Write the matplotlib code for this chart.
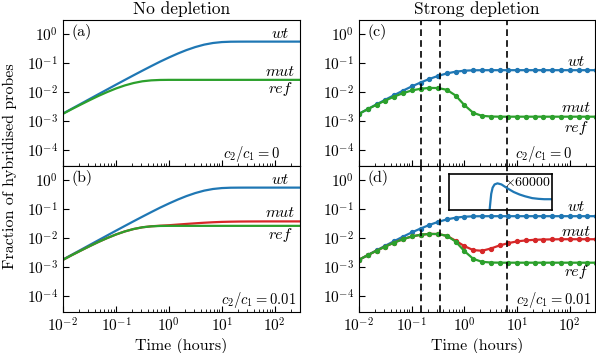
import matplotlib
matplotlib.use("Agg")
import matplotlib.pyplot as plt

plt.rcParams['font.family'] = 'serif'
plt.rcParams['font.serif'] = ['cmr10']
plt.rcParams['mathtext.fontset'] = 'cm'
plt.rcParams['axes.formatter.use_mathtext'] = True
plt.rcParams['font.size'] = 11

BLUE = '#1f77b4'
GREEN = '#2ca02c'
RED = '#d62728'

# time points (hours)
t = [0.01, 0.0147, 0.0215, 0.0316, 0.0464, 0.0681, 0.1, 0.147, 0.215, 0.316,
     0.464, 0.681, 1, 1.47, 2.15, 3.16, 4.64, 6.81, 10, 14.7, 21.5, 31.6,
     46.4, 68.1, 100, 147, 215, 316]

# no depletion
wt_nd = [0.0018, 0.00264, 0.00385, 0.00565, 0.00828, 0.0121, 0.0177, 0.0258,
         0.0373, 0.0539, 0.0773, 0.110, 0.153, 0.209, 0.276, 0.351, 0.425,
         0.484, 0.521, 0.536, 0.539, 0.54, 0.54, 0.54, 0.54, 0.54, 0.54, 0.54]
ref_nd = [0.00176, 0.00255, 0.00363, 0.00515, 0.00722, 0.00985, 0.0131,
          0.0167, 0.0202, 0.0232, 0.0250, 0.0258, 0.0260, 0.026, 0.026, 0.026,
          0.026, 0.026, 0.026, 0.026, 0.026, 0.026, 0.026, 0.026, 0.026,
          0.026, 0.026, 0.026]
mut_nd_b = [0.00176, 0.00255, 0.00363, 0.00515, 0.00722, 0.00985, 0.0131,
            0.0167, 0.0202, 0.0232, 0.0251, 0.0263, 0.0273, 0.0288, 0.0303,
            0.0318, 0.0333, 0.0346, 0.0356, 0.0362, 0.0366, 0.0368, 0.0369,
            0.037, 0.037, 0.037, 0.037, 0.037]

# strong depletion
wt_sd = [0.00176, 0.00257, 0.00372, 0.00539, 0.00773, 0.0110, 0.0154, 0.0210,
         0.0278, 0.0356, 0.0433, 0.0497, 0.0537, 0.0555, 0.0559, 0.056, 0.056,
         0.056, 0.056, 0.056, 0.056, 0.056, 0.056, 0.056, 0.056, 0.056,
         0.056, 0.056]
ref_sd = [0.00176, 0.00255, 0.00362, 0.00505, 0.0069, 0.0090, 0.0112, 0.0128,
          0.0137, 0.0136, 0.0118, 0.0075, 0.0035, 0.0019, 0.00150, 0.00142,
          0.0014, 0.0014, 0.0014, 0.0014, 0.0014, 0.0014, 0.0014, 0.0014,
          0.0014, 0.0014, 0.0014, 0.0014]
mut_sd_d = [0.00176, 0.00255, 0.00362, 0.00505, 0.0069, 0.0090, 0.0112,
            0.0128, 0.0137, 0.0136, 0.0118, 0.0080, 0.0052, 0.0038, 0.0036,
            0.0043, 0.0055, 0.0066, 0.0076, 0.0082, 0.0086, 0.0088, 0.0089,
            0.009, 0.009, 0.009, 0.009, 0.009]

vlines = [0.152, 0.344, 6.5]

# inset (x60000)
inset_t = [2.9, 3.05, 3.2, 3.4, 3.7, 4.2, 5.0, 6.5, 8.5, 11, 14, 19, 25, 32,
           40, 50]
inset_y = [-0.2, 0.15, 0.45, 0.62, 0.71, 0.74, 0.71, 0.6, 0.5, 0.43, 0.38,
           0.33, 0.31, 0.3, 0.3, 0.3]

fig = plt.figure(figsize=(5.96, 3.53), dpi=100)
W, H = 596.0, 353.0
aw, ah = 237 / W, 146 / H
ax_a = fig.add_axes([63 / W, 1 - 166 / H, aw, ah])
ax_b = fig.add_axes([63 / W, 1 - 312 / H, aw, ah])
ax_c = fig.add_axes([359 / W, 1 - 166 / H, aw - 1 / W, ah])
ax_d = fig.add_axes([359 / W, 1 - 312 / H, aw - 1 / W, ah])

for ax in (ax_a, ax_b, ax_c, ax_d):
    ax.set_xscale('log')
    ax.set_yscale('log')
    ax.set_xlim(0.01, 300)
    ax.set_ylim(2.8e-5, 3)
    ax.tick_params(which='both', direction='in', top=False, right=False,
                   labelsize=11)
    ax.tick_params(which='major', length=4)
    ax.tick_params(which='minor', length=2)
    ax.set_yticks([1, 0.1, 0.01, 1e-3, 1e-4])

for ax in (ax_a, ax_c):
    ax.tick_params(labelbottom=False)

lw = 1.6
ax_a.plot(t, wt_nd, color=BLUE, lw=lw)
ax_a.plot(t, ref_nd, color=GREEN, lw=lw)

ax_b.plot(t, wt_nd, color=BLUE, lw=lw)
ax_b.plot(t, mut_nd_b, color=RED, lw=lw)
ax_b.plot(t, ref_nd, color=GREEN, lw=lw)

ax_c.plot(t, wt_sd, color=BLUE, lw=lw, marker='o', ms=2.8)
ax_c.plot(t, ref_sd, color=GREEN, lw=lw, marker='o', ms=2.8)

ax_d.plot(t, wt_sd, color=BLUE, lw=lw, marker='o', ms=2.8)
ax_d.plot(t, mut_sd_d, color=RED, lw=lw, marker='o', ms=2.8)
ax_d.plot(t, ref_sd, color=GREEN, lw=lw, marker='o', ms=2.8)

for ax in (ax_c, ax_d):
    for xv in vlines:
        ax.axvline(xv, color='k', lw=1.2, ls=(0, (4, 2.5)))

# curve labels (italic Computer Modern)
lab = dict(ha='center', va='center', fontsize=11.5, family='cmmi10')
ax_a.text(125, 1.0, 'wt', **lab)
ax_a.text(125, 0.049, 'mut', **lab)
ax_a.text(125, 0.0126, 'ref', **lab)
ax_b.text(125, 1.0, 'wt', **lab)
ax_b.text(125, 0.073, 'mut', **lab)
ax_b.text(125, 0.0126, 'ref', **lab)
ax_c.text(130, 0.11, 'wt', **lab)
ax_c.text(130, 0.0027, 'mut', **lab)
ax_c.text(130, 0.00059, 'ref', **lab)
ax_d.text(130, 0.117, 'wt', **lab)
ax_d.text(130, 0.016, 'mut', **lab)
ax_d.text(130, 0.00067, 'ref', **lab)

for ax, letter in zip((ax_a, ax_b, ax_c, ax_d), 'abcd'):
    ax.text(0.035, 0.92, '(%s)' % letter, transform=ax.transAxes,
            ha='left', va='center', fontsize=11.5)

ck = dict(va='center', ha='right', fontsize=10.5)
ax_a.text(0.916, 0.085, r'$c_2/c_1 = 0$', transform=ax_a.transAxes, **ck)
ax_b.text(0.985, 0.085, r'$c_2/c_1 = 0.01$', transform=ax_b.transAxes, **ck)
ax_c.text(0.903, 0.085, r'$c_2/c_1 = 0$', transform=ax_c.transAxes, **ck)
ax_d.text(0.985, 0.085, r'$c_2/c_1 = 0.01$', transform=ax_d.transAxes, **ck)

ax_a.set_title('No depletion', fontsize=12.5, pad=4)
ax_c.set_title('Strong depletion', fontsize=12.5, pad=4)
ax_b.set_xlabel('Time (hours)', fontsize=11.5, labelpad=2)
ax_d.set_xlabel('Time (hours)', fontsize=11.5, labelpad=2)
fig.text(0.017, 1 - 166 / H, 'Fraction of hybridised probes', rotation=90,
         ha='center', va='center', fontsize=11.5)

# inset
ins = fig.add_axes([449 / W, 1 - 210 / H, 103 / W, 36 / H])
ins.patch.set_alpha(0)
ins.set_xscale('log')
ins.set_xlim(0.51, 45)
ins.set_ylim(0, 1)
ins.plot(inset_t, inset_y, color=BLUE, lw=lw)
ins.set_xticks([])
ins.set_yticks([])
ins.minorticks_off()
ins.text(0.99, 0.76, r'$\times$60000', transform=ins.transAxes,
         ha='right', va='center', fontsize=10)
for s in ins.spines.values():
    s.set_linewidth(1.2)

fig.savefig('out.png', dpi=100)
